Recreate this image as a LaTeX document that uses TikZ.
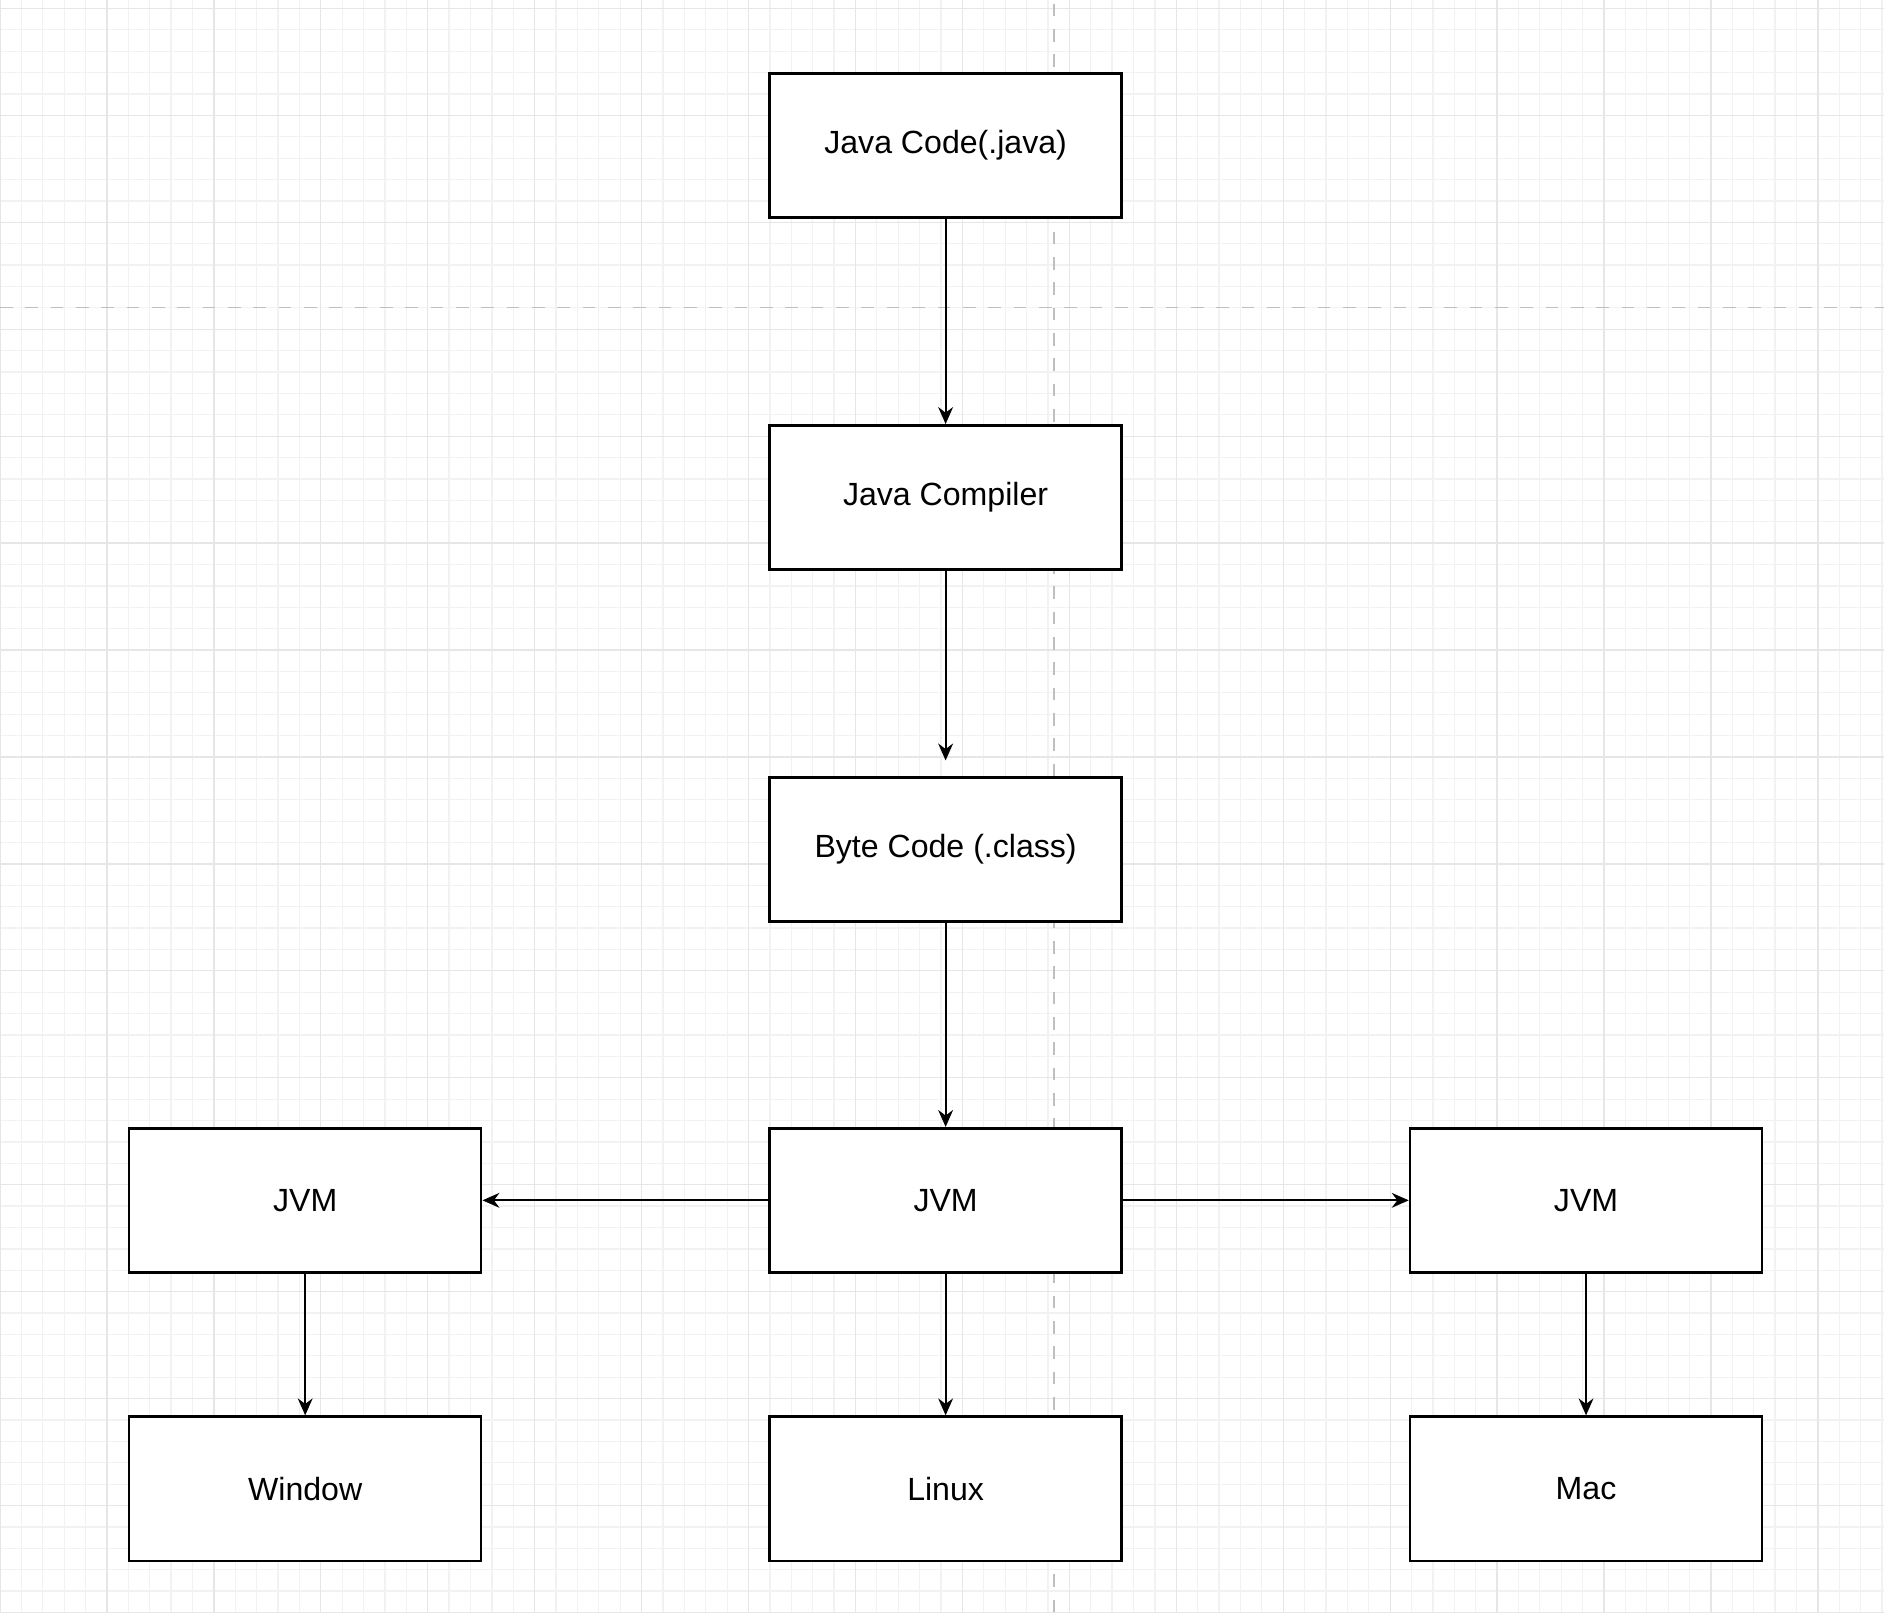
\documentclass[tikz,border=0pt]{standalone}
\usepackage{fontspec}
\setmainfont{Liberation Sans}
\usetikzlibrary{arrows.meta,positioning}
\definecolor{grid_minor}{RGB}{242, 242, 242}
\definecolor{grid_major}{RGB}{230, 230, 230}
\tikzstyle{box}=[rectangle,draw=black,fill=white,line width=0.6pt,
  minimum width=2.93cm,minimum height=1.2cm,font=\fontsize{7.6}{9}\selectfont]
\tikzstyle{link}=[-{Stealth[length=4pt,width=3.5pt]},line width=0.5pt]
\begin{document}
\begin{tikzpicture}
            \useasboundingbox (0, 0) rectangle (15.68, 13.42);
            \draw [grid_minor, line width=0.3pt, step=0.178] (0, 0) grid (15.68, 13.42);
            \draw [grid_major, line width=0.3pt, step=0.89] (0, 0) grid (15.68, 13.42);
            \draw [gray!50, dashed, line width=0.4pt] (8.77, 0) -- (8.77, 13.42);
            \draw [gray!50, dashed, line width=0.4pt] (0, 10.86) -- (15.68, 10.86);
            \node [style=box] (src) at (7.87, 12.21) {Java Code(.java)};
            \node [style=box] (comp) at (7.87, 9.28) {Java Compiler};
            \node [style=box] (byte) at (7.87, 6.35) {Byte Code (.class)};
            \node [style=box] (jvm) at (7.87, 3.43) {JVM};
            \node [style=box] (jvmw) at (2.54, 3.43) {JVM};
            \node [style=box] (jvmm) at (13.20, 3.43) {JVM};
            \node [style=box] (win) at (2.54, 1.03) {Window};
            \node [style=box] (lin) at (7.87, 1.03) {Linux};
            \node [style=box] (mac) at (13.20, 1.03) {Mac};
            \draw [style=link] (src) to (comp);
            \draw [style=link, shorten >=0.13cm] (comp) to (byte);
            \draw [style=link] (byte) to (jvm);
            \draw [style=link] (jvm) to (jvmw);
            \draw [style=link] (jvm) to (jvmm);
            \draw [style=link] (jvmw) to (win);
            \draw [style=link] (jvm) to (lin);
            \draw [style=link] (jvmm) to (mac);
    \end{tikzpicture}
\end{document}
